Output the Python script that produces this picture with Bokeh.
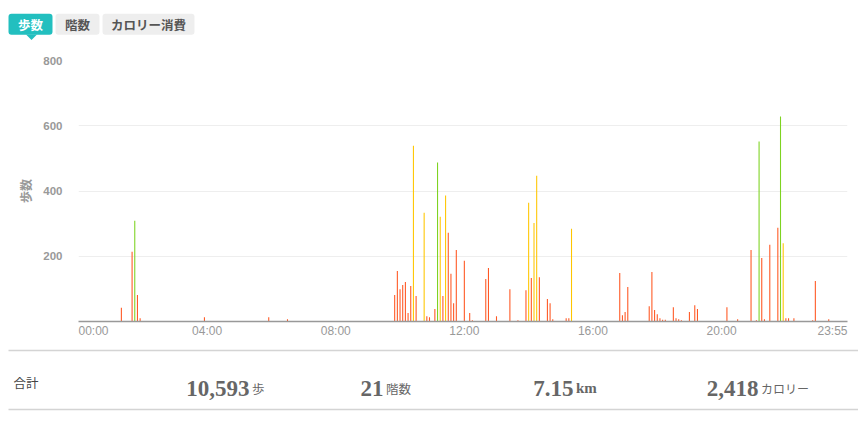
from bokeh.plotting import figure
from bokeh.models import Range1d, FixedTicker, ColumnDataSource
from bokeh.layouts import column
from bokeh.embed import file_html
from bokeh.resources import INLINE
from bokeh.core.properties import value

# ---------------- data ----------------
# minute of day at which each 5-minute bucket starts
minutes = [
    80, 100, 105, 110, 115, 235, 355, 390,
    590, 595, 600, 605, 610, 615, 620, 625, 630, 645, 650, 655, 665, 670,
    675, 680, 685, 690, 695, 700, 705, 720, 730, 735,
    760, 765, 780, 805, 820, 835, 840, 845, 850, 855, 860, 875, 880, 885,
    910, 915, 920,
    1010, 1015, 1020, 1025, 1065, 1070, 1075, 1080, 1085, 1090, 1095, 1110,
    1115, 1120, 1125, 1140, 1150, 1155, 1210,
    1230, 1255, 1265, 1270, 1275, 1280, 1290, 1305, 1310, 1315, 1320, 1325,
    1335, 1370, 1375, 1400,
]
steps = [
    42, 214, 309, 81, 10, 13, 13, 7,
    81, 155, 99, 112, 121, 26, 109, 539, 78, 333, 16, 13, 38, 487,
    321, 78, 386, 272, 146, 56, 219, 186, 26, 4,
    130, 164, 16, 99, 4, 96, 364, 133, 302, 447, 136, 69, 56, 7,
    10, 10, 284,
    149, 19, 29, 106, 47, 152, 35, 22, 10, 5, 5, 44,
    10, 7, 4, 29, 50, 38, 44,
    7, 219, 4, 552, 195, 7, 235, 287, 628, 240, 10, 10,
    10, 4, 124, 7,
]
# w = walking, b = brisk, a = active
intensity = [
    "w", "w", "a", "w", "w", "w", "w", "w",
    "w", "w", "w", "w", "w", "w", "w", "b", "w", "b", "w", "w", "w", "a",
    "b", "w", "b", "w", "w", "w", "w", "w", "w", "w",
    "w", "w", "w", "w", "w", "w", "b", "w", "b", "b", "w", "w", "w", "w",
    "w", "w", "b",
    "w", "w", "w", "w", "w", "w", "w", "w", "w", "w", "w", "w",
    "w", "w", "w", "w", "w", "w", "w",
    "w", "w", "w", "a", "w", "w", "w", "w", "a", "b", "w", "w",
    "w", "w", "w", "w",
]
x_start, x_end = 0, 1435
tick_minutes = [0, 240, 480, 720, 960, 1200, 1435]
tick_labels = ["00:00", "04:00", "08:00", "12:00", "16:00", "20:00", "23:55"]
y_ticks = [200, 400, 600, 800]

tabs = ["歩数", "階数", "カロリー消費"]
total_label = "合計"
total_steps = 10593
total_floors = 21
total_km = 7.15
total_kcal = 2418
units = ["歩", "階数", "km", "カロリー"]

# ---------------- styles ----------------
W = 858
TEAL = "#22bfbf"
palette = {"w": "#ff5722", "b": "#ffc600", "a": "#7ed321"}
JP = "Noto Sans CJK JP"
BL, BR = 78, 11          # chart borders
FRAME_W = W - BL - BR


def no_align(fig):
    try:
        fig.frame_align = False
    except Exception:
        pass


# ---------------- tabs ----------------
t = figure(width=W, height=45, x_range=Range1d(0, W), y_range=Range1d(45, 0),
           output_backend="svg", toolbar_location=None, min_border=0,
           x_axis_type=None, y_axis_type=None)
no_align(t)
t.outline_line_color = None
t.grid.visible = False
tab_left = [8, 55, 102]
tab_right = [52, 99, 194]
t.quad(left=tab_left, right=tab_right, top=[13.3] * 3, bottom=[34.3] * 3,
       fill_color=[TEAL, "#eeeeee", "#eeeeee"], line_color=None, border_radius=3)
t.patch(x=[25.5, 36.5, 31], y=[34, 34, 39.5], fill_color=TEAL, line_color=None)
t.text(x=[(a + b) / 2 for a, b in zip(tab_left, tab_right)], y=[24] * 3, text=tabs,
       text_align="center", text_baseline="middle", text_font=value(JP),
       text_font_style="bold", text_font_size="12.5px",
       text_color=["#ffffff", "#555555", "#555555"])

# ---------------- chart ----------------
src = ColumnDataSource(dict(minute=minutes, steps=steps,
                            color=[palette[k] for k in intensity]))
p = figure(width=W, height=300, x_range=Range1d(x_start, x_end), y_range=Range1d(0, 800),
           output_backend="svg", toolbar_location=None,
           min_border_left=BL, min_border_right=BR, min_border_top=15, min_border_bottom=24)
p.outline_line_color = None
p.xgrid.visible = False
p.ygrid.ticker = FixedTicker(ticks=y_ticks)
p.ygrid.grid_line_color = "#eeeeee"
p.ygrid.grid_line_width = 1

p.vbar(x="minute", top="steps", bottom=0, width=2.0, fill_color="color",
       line_color=None, source=src)

yax = p.yaxis[0]
yax.ticker = FixedTicker(ticks=y_ticks)
yax.axis_line_color = None
yax.major_tick_line_color = None
yax.minor_tick_line_color = None
yax.major_tick_out = 0
yax.major_tick_in = 0
yax.major_label_text_font = "Liberation Sans"
yax.major_label_text_font_style = "bold"
yax.major_label_text_font_size = "11.5px"
yax.major_label_text_color = "#999999"
yax.major_label_standoff = 16
yax.axis_label = "歩数"
yax.axis_label_text_font = JP
yax.axis_label_text_font_style = "bold"
yax.axis_label_text_font_size = "12px"
yax.axis_label_text_color = "#999999"
yax.axis_label_standoff = 6

# end labels are kept inside the axis span (left-/right-aligned look)
min_per_px = (x_end - x_start) / FRAME_W
half_label = 15 * min_per_px
label_pos = list(tick_minutes)
label_pos[0] = tick_minutes[0] + half_label
label_pos[-1] = tick_minutes[-1] - half_label

xax = p.xaxis[0]
xax.bounds = (x_start, x_end)
xax.ticker = FixedTicker(ticks=label_pos)
xax.major_label_overrides = {pos: lab for pos, lab in zip(label_pos, tick_labels)}
xax.axis_line_color = "#999999"
xax.axis_line_width = 1.5
xax.major_tick_line_color = None
xax.minor_tick_line_color = None
xax.major_tick_out = 0
xax.major_tick_in = 0
xax.major_label_text_font = "Liberation Sans"
xax.major_label_text_font_size = "12px"
xax.major_label_text_color = "#999999"
xax.major_label_standoff = 2

# ---------------- summary ----------------
s = figure(width=W, height=73, x_range=Range1d(0, W), y_range=Range1d(418, 345),
           output_backend="svg", toolbar_location=None, min_border=0,
           x_axis_type=None, y_axis_type=None)
no_align(s)
s.outline_line_color = None
s.grid.visible = False
s.segment(x0=[8, 8], x1=[858, 858], y0=[350, 409], y1=[350, 409],
          line_color="#d4d4d4", line_width=1.5)
s.text(x=[13], y=[382], text=[total_label], text_align="left", text_baseline="middle",
       text_font=value(JP), text_font_size="12.5px", text_color="#444444")
nums = [f"{total_steps:,}", f"{total_floors}", f"{total_km:.2f}", f"{total_kcal:,}"]
num_end = [249, 383, 573, 758]
s.text(x=num_end, y=[387.5] * 4, text=nums, text_align="right", text_baseline="alphabetic",
       text_font=value("Liberation Serif"), text_font_style="bold",
       text_font_size="23px", text_color="#666666")
s.text(x=[e + 2.5 for e in num_end], y=[387.5] * 4, text=units, text_align="left",
       text_baseline="alphabetic",
       text_font=[JP, JP, "Liberation Serif", JP],
       text_font_style=["normal", "normal", "bold", "normal"],
       text_font_size=["12.5px", "12.5px", "15px", "12px"], text_color="#666666")

layout = column(t, p, s, spacing=0)
open("out.html", "w").write(file_html(layout, INLINE))
